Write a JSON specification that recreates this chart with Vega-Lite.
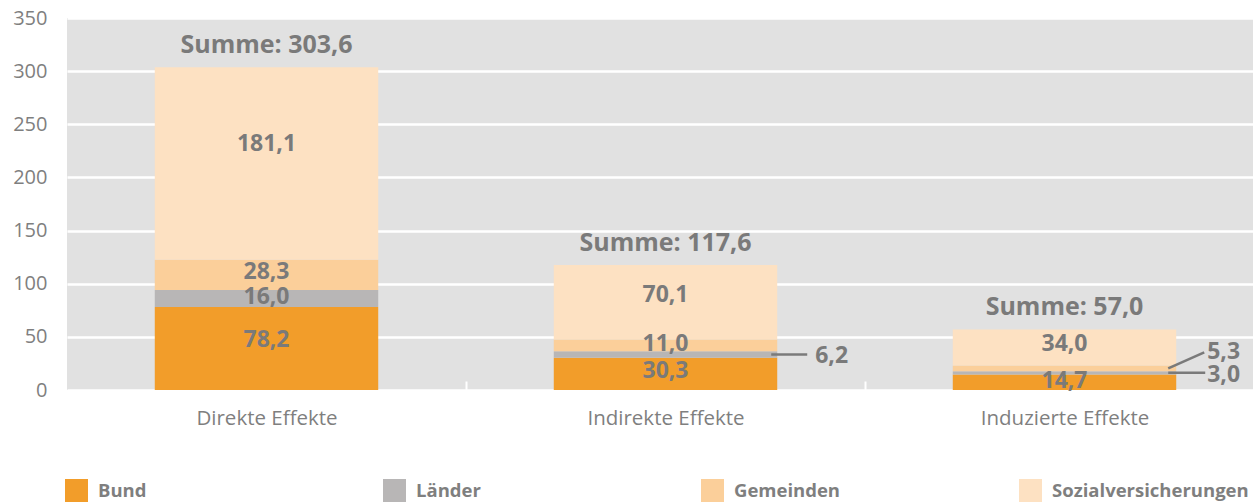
{
  "$schema": "https://vega.github.io/schema/vega-lite/v6.json",
  "width": 1197,
  "height": 372,
  "autosize": {"type": "none"},
  "padding": {"left": 67, "top": 18, "right": 0, "bottom": 112},
  "background": "white",
  "config": {
    "font": "Open Sans",
    "view": {"fill": "#e1e1e1", "stroke": null},
    "axisY": {"labelFontSize": 20, "labelColor": "#7f7f7f", "labelPadding": 20, "labelFont": "Open Sans"},
    "axisX": {"labelFontSize": 20.5, "labelColor": "#7f7f7f", "labelFont": "Open Sans"}
  },
  "data": {
    "values": [
      {"cat": "Direkte Effekte", "s": "Bund", "v": 78.2, "pos": "in"},
      {"cat": "Direkte Effekte", "s": "Länder", "v": 16.0, "pos": "in"},
      {"cat": "Direkte Effekte", "s": "Gemeinden", "v": 28.3, "pos": "in"},
      {"cat": "Direkte Effekte", "s": "Sozialversicherungen", "v": 181.1, "pos": "in"},
      {"cat": "Indirekte Effekte", "s": "Bund", "v": 30.3, "pos": "in"},
      {"cat": "Indirekte Effekte", "s": "Länder", "v": 6.2, "pos": "out1"},
      {"cat": "Indirekte Effekte", "s": "Gemeinden", "v": 11.0, "pos": "in"},
      {"cat": "Indirekte Effekte", "s": "Sozialversicherungen", "v": 70.1, "pos": "in"},
      {"cat": "Induzierte Effekte", "s": "Bund", "v": 14.7, "pos": "in"},
      {"cat": "Induzierte Effekte", "s": "Länder", "v": 3.0, "pos": "out2"},
      {"cat": "Induzierte Effekte", "s": "Gemeinden", "v": 5.3, "pos": "diag"},
      {"cat": "Induzierte Effekte", "s": "Sozialversicherungen", "v": 34.0, "pos": "in"}
    ]
  },
  "transform": [
    {"calculate": "indexof(['Bund','Länder','Gemeinden','Sozialversicherungen'], datum.s)", "as": "k"},
    {"stack": "v", "groupby": ["cat"], "sort": [{"field": "k", "order": "ascending"}], "as": ["y0", "y1"]},
    {"calculate": "(datum.y0 + datum.y1) / 2", "as": "mid"},
    {"calculate": "datum.y0 + 0.6 * datum.v", "as": "lpos"},
    {"calculate": "replace(format(datum.v, '.1f'), '.', ',')", "as": "lab"},
    {"calculate": "'Summe: ' + replace(format(datum.y1, '.1f'), '.', ',')", "as": "sumlab"}
  ],
  "encoding": {
    "x": {
      "field": "cat", "type": "nominal", "sort": null,
      "scale": {"paddingInner": 0.44, "paddingOuter": 0.22},
      "axis": {
        "title": null, "labelAngle": 0, "domain": false, "zindex": 1,
        "tickOffset": 199.5, "labelOffset": -199.5, "tickColor": "white", "tickWidth": 2, "tickSize": -9,
        "labelFontSize": 20.5, "labelColor": "#7f7f7f", "labelPadding": 27
      }
    }
  },
  "layer": [
    {
      "mark": {"type": "bar"},
      "encoding": {
        "y": {
          "field": "y1", "type": "quantitative",
          "scale": {"domain": [0, 350], "nice": false},
          "axis": {
            "title": null, "values": [0, 50, 100, 150, 200, 250, 300, 350],
            "domain": false, "ticks": false, "gridColor": "white", "gridWidth": 2.5, "gridOpacity": 1,
            "labelFontSize": 20, "labelColor": "#7f7f7f", "labelPadding": 20
          }
        },
        "y2": {"field": "y0"},
        "color": {
          "field": "s", "type": "nominal",
          "scale": {
            "domain": ["Bund", "Länder", "Gemeinden", "Sozialversicherungen"],
            "range": ["#f29d2a", "#b8b6b6", "#fbcf9a", "#fde1c2"]
          },
          "legend": {
            "title": null, "orient": "none", "legendX": -2, "legendY": 461,
            "direction": "horizontal", "columns": 4, "gridAlign": "all", "columnPadding": 88,
            "symbolType": "square", "symbolSize": 529, "symbolStrokeWidth": 0,
            "symbolOpacity": 1, "labelLimit": 400,
            "labelFontSize": 18.5, "labelFontWeight": "bold", "labelColor": "#7f7f7f",
            "labelOffset": 10, "labelFont": "Open Sans"
          }
        }
      }
    },
    {
      "transform": [{"filter": "datum.pos == 'in'"}],
      "mark": {"type": "text", "fontSize": 23, "fontWeight": "bold", "color": "#7a7a7a", "baseline": "middle"},
      "encoding": {
        "y": {"field": "lpos", "type": "quantitative"},
        "text": {"field": "lab"}
      }
    },
    {
      "transform": [{"filter": "datum.s == 'Sozialversicherungen'"}],
      "mark": {"type": "text", "fontSize": 25, "fontWeight": "bold", "color": "#7a7a7a", "baseline": "middle", "dy": -22},
      "encoding": {
        "y": {"field": "y1", "type": "quantitative"},
        "text": {"field": "sumlab"}
      }
    },
    {
      "transform": [{"filter": "datum.pos == 'out1'"}],
      "mark": {"type": "rule", "color": "#7a7a7a", "strokeWidth": 2.5, "xOffset": -6, "x2Offset": 30},
      "encoding": {
        "x": {"field": "cat", "type": "nominal", "sort": null, "bandPosition": 1},
        "x2": {"field": "cat", "bandPosition": 1},
        "y": {"field": "mid", "type": "quantitative"}
      }
    },
    {
      "transform": [{"filter": "datum.pos == 'out2'"}],
      "mark": {"type": "rule", "color": "#7a7a7a", "strokeWidth": 2.5, "xOffset": -8, "x2Offset": 29},
      "encoding": {
        "x": {"field": "cat", "type": "nominal", "sort": null, "bandPosition": 1},
        "x2": {"field": "cat", "bandPosition": 1},
        "y": {"field": "mid", "type": "quantitative"}
      }
    },
    {
      "transform": [{"filter": "datum.pos == 'diag'"}],
      "mark": {"type": "rule", "color": "#7a7a7a", "strokeWidth": 2.5, "xOffset": -8, "x2Offset": 28, "y2Offset": -16},
      "encoding": {
        "x": {"field": "cat", "type": "nominal", "sort": null, "bandPosition": 1},
        "x2": {"field": "cat", "bandPosition": 1},
        "y": {"field": "mid", "type": "quantitative"},
        "y2": {"field": "mid"}
      }
    },
    {
      "transform": [{"filter": "datum.pos == 'out1'"}],
      "mark": {"type": "text", "fontSize": 23, "fontWeight": "bold", "color": "#7a7a7a", "baseline": "middle", "align": "left", "dx": 38, "dy": 1},
      "encoding": {
        "x": {"field": "cat", "type": "nominal", "sort": null, "bandPosition": 1},
        "y": {"field": "mid", "type": "quantitative"},
        "text": {"field": "lab"}
      }
    },
    {
      "transform": [{"filter": "datum.pos == 'out2'"}],
      "mark": {"type": "text", "fontSize": 23, "fontWeight": "bold", "color": "#7a7a7a", "baseline": "middle", "align": "left", "dx": 31, "dy": 2},
      "encoding": {
        "x": {"field": "cat", "type": "nominal", "sort": null, "bandPosition": 1},
        "y": {"field": "mid", "type": "quantitative"},
        "text": {"field": "lab"}
      }
    },
    {
      "transform": [{"filter": "datum.pos == 'diag'"}],
      "mark": {"type": "text", "fontSize": 23, "fontWeight": "bold", "color": "#7a7a7a", "baseline": "middle", "align": "left", "dx": 31, "dy": -16},
      "encoding": {
        "x": {"field": "cat", "type": "nominal", "sort": null, "bandPosition": 1},
        "y": {"field": "mid", "type": "quantitative"},
        "text": {"field": "lab"}
      }
    }
  ]
}
